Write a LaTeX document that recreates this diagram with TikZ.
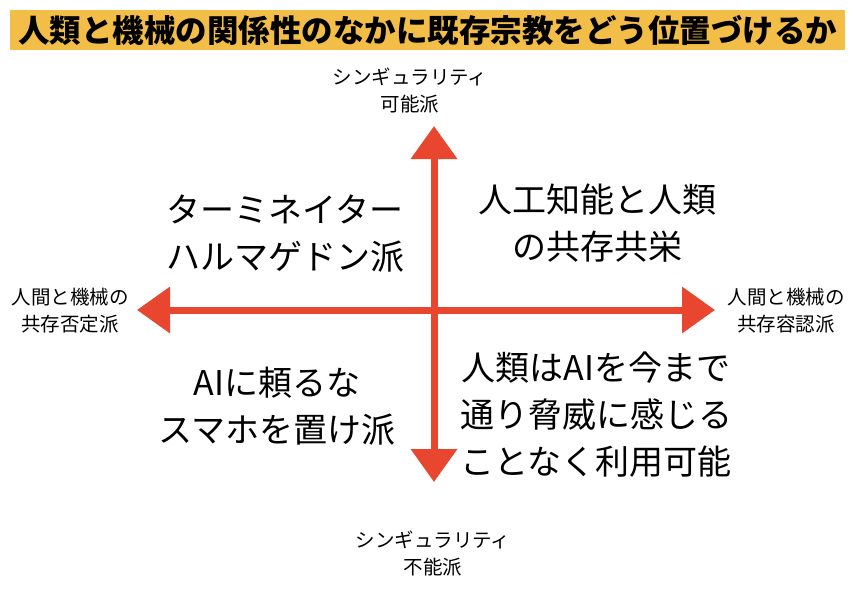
\documentclass[tikz,border=0pt]{standalone}
\usepackage{fontspec}
\setmainfont{Noto Sans CJK JP}
\usepackage{tikz}
\usetikzlibrary{arrows.meta}
\definecolor{axisred}{RGB}{232,70,46}
\definecolor{titlebar}{RGB}{243,190,72}

\begin{document}
\begin{tikzpicture}[x=1pt,y=-1pt,
    axis/.style={draw=axisred, line width=7pt,
      {Triangle[width=45pt,length=33pt]}-{Triangle[width=45pt,length=33pt]}},
    axislabel/.style={align=center, inner sep=0pt,
      font=\fontsize{19.5}{27}\selectfont},
    quadrant/.style={align=center, inner sep=0pt,
      font=\fontsize{34}{47}\selectfont},
    titlebox/.style={fill=titlebar, inner sep=0pt, minimum width=835pt,
      minimum height=40pt, font=\fontsize{31.5}{32}\selectfont\bfseries}]
  \useasboundingbox (0,0) rectangle (853,605);
  \node[titlebox] (title) at (427.5,30) {人類と機械の関係性のなかに既存宗教をどう位置づけるか};
  % axes
  \coordinate (n) at (434,126);
  \coordinate (s) at (434,482);
  \coordinate (w) at (137,310);
  \coordinate (e) at (715,310);
  \draw[axis] (s) -- (n);
  \draw[axis] (w) -- (e);
  % axis ends
  \node[axislabel] (top) at (410,91) {シンギュラリティ\\可能派};
  \node[axislabel] (bottom) at (433,554) {シンギュラリティ\\不能派};
  \node[axislabel] (left) at (70,311) {人間と機械の\\共存否定派};
  \node[axislabel] (right) at (786,311) {人間と機械の\\共存容認派};
  % quadrants
  \node[quadrant] (tl) at (285,234) {ターミネイター\\ハルマゲドン派};
  \node[quadrant] (tr) at (597,223) {人工知能と人類\\の共存共栄};
  \node[quadrant] (bl) at (277,406) {AIに頼るな\\スマホを置け派};
  \node[quadrant] (br) at (596,415) {人類はAIを今まで\\通り脅威に感じる\\ことなく利用可能};
\end{tikzpicture}
\end{document}
